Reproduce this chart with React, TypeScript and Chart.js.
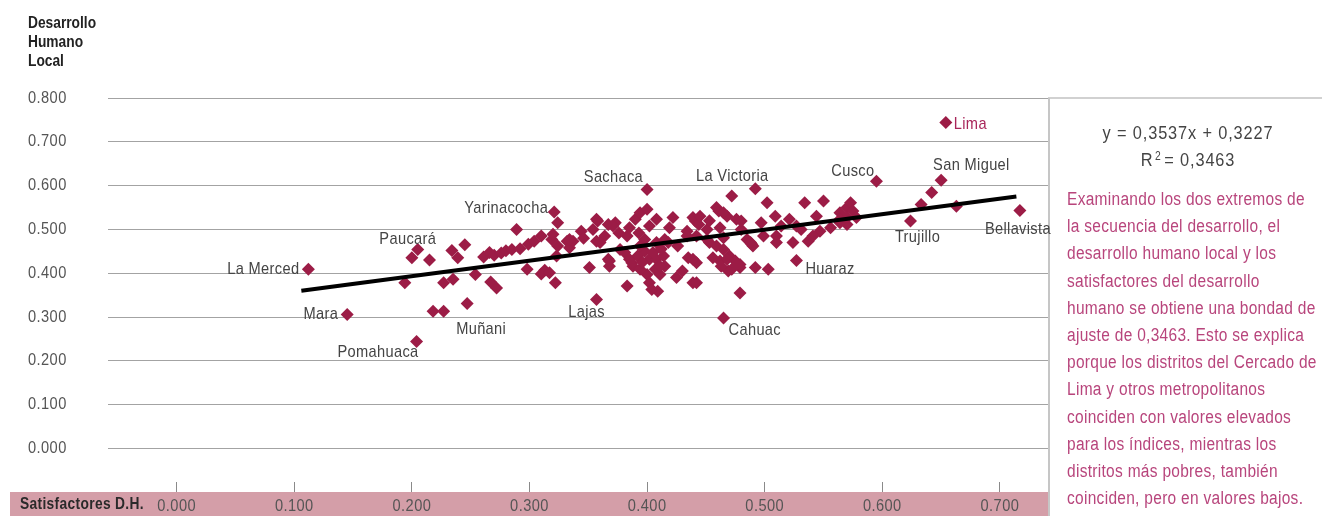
import React, { useEffect, useRef } from 'react';
import { Chart, registerables } from 'chart.js';

Chart.register(...registerables);

const FONT = "'Liberation Sans', Arial, sans-serif";
const SX = 0.86; // horizontal condensing of all text

// ---- data ----
const yTickValues = [0, 0.1, 0.2, 0.3, 0.4, 0.5, 0.6, 0.7, 0.8];
const xTickValues = [0, 0.1, 0.2, 0.3, 0.4, 0.5, 0.6, 0.7];

const satisfactores = [
  0.194, 0.200, 0.215, 0.218, 0.227, 0.227, 0.235, 0.234, 0.239, 0.245,
  0.254, 0.267, 0.272, 0.261, 0.266, 0.270, 0.276, 0.280, 0.285, 0.292,
  0.299, 0.304, 0.310, 0.289, 0.298, 0.310, 0.313, 0.322, 0.324, 0.319,
  0.324, 0.332, 0.320, 0.334, 0.323, 0.317, 0.337, 0.344, 0.351, 0.358,
  0.354, 0.367, 0.373, 0.364, 0.357, 0.383, 0.390, 0.394, 0.400, 0.385,
  0.402, 0.398, 0.408, 0.415, 0.422, 0.419, 0.367, 0.368, 0.381, 0.385,
  0.392, 0.388, 0.398, 0.402, 0.408, 0.414, 0.415, 0.407, 0.411, 0.400,
  0.402, 0.409, 0.383, 0.425, 0.435, 0.439, 0.434, 0.441, 0.404, 0.368,
  0.387, 0.394, 0.411, 0.442, 0.357, 0.371, 0.408, 0.334, 0.360, 0.394,
  0.377, 0.405, 0.418, 0.439, 0.444, 0.451, 0.442, 0.461, 0.472, 0.468,
  0.476, 0.480, 0.502, 0.509, 0.514, 0.521, 0.534, 0.550, 0.544, 0.531,
  0.537, 0.524, 0.510, 0.489, 0.465, 0.453, 0.470, 0.475, 0.462, 0.479,
  0.492, 0.503, 0.469, 0.439, 0.442, 0.479, 0.564, 0.570, 0.556, 0.570,
  0.573, 0.575, 0.570, 0.578, 0.564, 0.547, 0.541, 0.527, 0.459, 0.465,
  0.480, 0.462, 0.445, 0.434, 0.451, 0.465, 0.459, 0.485, 0.490, 0.499,
  0.510, 0.456, 0.468, 0.479, 0.488, 0.463, 0.472, 0.642, 0.633, 0.663,
  0.564, 0.393, 0.396, 0.412, 0.426, 0.430, 0.376, 0.346, 0.453, 0.497,
];

const desarrollo = [
  0.378, 0.435, 0.430, 0.313, 0.313, 0.378, 0.386, 0.452, 0.435, 0.465,
  0.397, 0.380, 0.366, 0.437, 0.447, 0.441, 0.446, 0.451, 0.454, 0.456,
  0.466, 0.473, 0.485, 0.500, 0.409, 0.398, 0.407, 0.378, 0.515, 0.477,
  0.462, 0.473, 0.489, 0.458, 0.439, 0.401, 0.473, 0.496, 0.413, 0.519,
  0.500, 0.511, 0.515, 0.485, 0.473, 0.485, 0.523, 0.538, 0.546, 0.504,
  0.508, 0.477, 0.470, 0.477, 0.527, 0.504, 0.432, 0.416, 0.447, 0.432,
  0.439, 0.416, 0.450, 0.432, 0.432, 0.439, 0.416, 0.409, 0.397, 0.397,
  0.378, 0.359, 0.371, 0.390, 0.435, 0.378, 0.496, 0.519, 0.363, 0.428,
  0.424, 0.409, 0.416, 0.424, 0.523, 0.508, 0.523, 0.477, 0.470, 0.462,
  0.454, 0.447, 0.470, 0.527, 0.511, 0.500, 0.485, 0.542, 0.576, 0.530,
  0.523, 0.500, 0.561, 0.530, 0.508, 0.523, 0.561, 0.565, 0.530, 0.500,
  0.473, 0.470, 0.485, 0.466, 0.454, 0.470, 0.439, 0.428, 0.428, 0.413,
  0.413, 0.409, 0.405, 0.432, 0.378, 0.355, 0.538, 0.550, 0.504, 0.511,
  0.561, 0.542, 0.527, 0.527, 0.515, 0.496, 0.485, 0.508, 0.550, 0.538,
  0.519, 0.504, 0.530, 0.485, 0.477, 0.481, 0.462, 0.477, 0.462, 0.485,
  0.470, 0.435, 0.432, 0.420, 0.470, 0.416, 0.409, 0.584, 0.557, 0.553,
  0.523, 0.492, 0.425, 0.455, 0.462, 0.405, 0.492, 0.480, 0.520, 0.515,
];

const districtNames = [
  'La Merced', 'Mara', 'Pomahuaca', 'Paucará', 'Muñani', 'Yarinacocha', 'Sachaca', 'Lajas',
  'La Victoria', 'Cahuac', 'Huaraz', 'Cusco', 'Lima', 'San Miguel', 'Trujillo', 'Bellavista',
];
const districtX = [0.112, 0.145, 0.204, 0.205, 0.247, 0.321, 0.400, 0.357, 0.492, 0.465, 0.527, 0.595, 0.654, 0.650, 0.624, 0.717];
const districtY = [0.409, 0.306, 0.244, 0.454, 0.331, 0.540, 0.591, 0.340, 0.593, 0.298, 0.429, 0.610, 0.744, 0.612, 0.519, 0.543];

const trendX = [0.106, 0.714];
const trendY = [0.360, 0.575];

const equationLine = 'y = 0,3537x + 0,3227';
const r2Value = '0,3463';
const noteLines = [
  'Examinando los dos extremos de',
  'la secuencia del desarrollo, el',
  'desarrollo humano local y los',
  'satisfactores del desarrollo',
  'humano se obtiene una bondad de',
  'ajuste de 0,3463. Esto se explica',
  'porque los distritos del Cercado de',
  'Lima y otros metropolitanos',
  'coinciden con valores elevados',
  'para los índices, mientras los',
  'distritos más pobres, también',
  'coinciden, pero en valores bajos.',
];
const yTitleLines = ['Desarrollo', 'Humano', 'Local'];
const xTitle = 'Satisfactores D.H.';

// ---- label placement (style) ----
const labelPlacement: Record<string, { align: CanvasTextAlign; dx: number; dy: number }> = {
  'La Merced': { align: 'right', dx: -9, dy: 0 },
  'Mara': { align: 'right', dx: -9, dy: 0 },
  'Pomahuaca': { align: 'right', dx: 2, dy: 11 },
  'Paucará': { align: 'center', dx: -10, dy: -10 },
  'Muñani': { align: 'center', dx: 14, dy: 26 },
  'Yarinacocha': { align: 'right', dx: -6, dy: -4 },
  'Sachaca': { align: 'right', dx: -4, dy: -12 },
  'Lajas': { align: 'center', dx: -10, dy: 13 },
  'La Victoria': { align: 'center', dx: -23, dy: -12 },
  'Cahuac': { align: 'left', dx: 5, dy: 12 },
  'Huaraz': { align: 'left', dx: 9, dy: 9 },
  'Cusco': { align: 'right', dx: -2, dy: -10 },
  'Lima': { align: 'left', dx: 8, dy: 2 },
  'San Miguel': { align: 'left', dx: -8, dy: -15 },
  'Trujillo': { align: 'center', dx: 7, dy: 16 },
  'Bellavista': { align: 'center', dx: -2, dy: 19 },
};

const POINT_COLOR = '#9c1c46';
const BAND_COLOR = '#d49ea8';
const GRID_COLOR = '#a3a3a3';
const TEXT_GREY = '#555';
const NOTE_COLOR = '#b8457c';

function drawText(
  ctx: CanvasRenderingContext2D,
  text: string,
  x: number,
  y: number,
  align: CanvasTextAlign,
  font: string,
  color: string,
  spacing: string,
) {
  ctx.save();
  ctx.translate(x, y);
  ctx.scale(SX, 1);
  ctx.font = font;
  (ctx as any).letterSpacing = spacing;
  ctx.fillStyle = color;
  ctx.textAlign = align;
  ctx.textBaseline = 'middle';
  ctx.fillText(text, 0, 0);
  ctx.restore();
}

const decorPlugin = {
  id: 'decor',
  beforeDraw(chart: any) {
    const { ctx, chartArea, scales } = chart;
    ctx.save();
    ctx.fillStyle = '#fff';
    ctx.fillRect(0, 0, chart.width, chart.height);
    const bandTop = chartArea.bottom + 10;
    ctx.fillStyle = BAND_COLOR;
    ctx.fillRect(10, bandTop, chartArea.right - 10, chart.height - bandTop);
    const yTop = scales.y.getPixelForValue(0.8);
    ctx.strokeStyle = GRID_COLOR;
    ctx.lineWidth = 1;
    ctx.beginPath();
    ctx.moveTo(chartArea.right, yTop);
    ctx.lineTo(chart.width, yTop);
    ctx.stroke();
    ctx.strokeStyle = '#c6c6c6';
    ctx.lineWidth = 2;
    ctx.beginPath();
    ctx.moveTo(chartArea.right + 1, yTop);
    ctx.lineTo(chartArea.right + 1, chart.height);
    ctx.stroke();
    ctx.restore();

    const bold = `bold 16px ${FONT}`;
    yTitleLines.forEach((t, i) => drawText(ctx, t, 28, 24 + i * 19, 'left', bold, '#222', '0px'));
    drawText(ctx, xTitle, 20, bandTop + 13, 'left', bold, '#2a2a2a', '0.4px');

    const tickFont = `17px ${FONT}`;
    yTickValues.forEach((v) => {
      drawText(ctx, v.toFixed(3), 28, scales.y.getPixelForValue(v), 'left', tickFont, TEXT_GREY, '0.5px');
    });
    xTickValues.forEach((v) => {
      drawText(ctx, v.toFixed(3), scales.x.getPixelForValue(v), bandTop + 14, 'center', tickFont, TEXT_GREY, '0.5px');
    });
  },
  afterDatasetsDraw(chart: any) {
    const { ctx, scales } = chart;
    const font = `17px ${FONT}`;
    districtNames.forEach((name, i) => {
      const p = labelPlacement[name];
      const px = scales.x.getPixelForValue(districtX[i]);
      const py = scales.y.getPixelForValue(districtY[i]);
      drawText(ctx, name, px + p.dx, py + p.dy, p.align, font, name === 'Lima' ? '#a8265a' : '#444', '0.4px');
    });
  },
};

export default function App() {
  const ref = useRef<HTMLCanvasElement>(null);

  useEffect(() => {
    document.body.style.margin = '0';
    const canvas = ref.current!;
    const points = satisfactores
      .map((x, i) => ({ x, y: desarrollo[i] }))
      .concat(districtX.map((x, i) => ({ x, y: districtY[i] })));
    const trend = trendX.map((x, i) => ({ x, y: trendY[i] }));

    const chart = new Chart(canvas, {
      type: 'scatter',
      data: {
        datasets: [
          {
            type: 'line',
            data: trend,
            borderColor: '#000',
            borderWidth: 4,
            pointRadius: 0,
            fill: false,
          } as any,
          {
            data: points,
            pointStyle: 'rectRot',
            pointRadius: 6.5,
            pointBorderWidth: 0,
            backgroundColor: POINT_COLOR,
            borderColor: POINT_COLOR,
          },
        ],
      },
      options: {
        responsive: false,
        animation: false,
        events: [],
        layout: { padding: { left: 28, top: 98, right: 274, bottom: 0 } },
        plugins: { legend: { display: false }, tooltip: { enabled: false } },
        scales: {
          x: {
            type: 'linear',
            min: -0.0584,
            max: 0.7409,
            afterBuildTicks: (s: any) => {
              s.ticks = xTickValues.map((v) => ({ value: v }));
            },
            afterFit: (s: any) => {
              s.height = 34;
            },
            grid: { drawOnChartArea: false, drawTicks: true, tickLength: 10, color: '#8a8a8a' },
            border: { display: false },
            ticks: { display: false },
          },
          y: {
            type: 'linear',
            min: -0.0767,
            max: 0.8,
            afterBuildTicks: (s: any) => {
              s.ticks = yTickValues.map((v) => ({ value: v }));
            },
            afterFit: (s: any) => {
              s.width = 80;
            },
            grid: { color: GRID_COLOR, lineWidth: 1, drawTicks: false },
            border: { display: false },
            ticks: { display: false },
          },
        },
      },
      plugins: [decorPlugin],
    });
    return () => chart.destroy();
  }, []);

  const textBase: React.CSSProperties = {
    position: 'absolute',
    fontFamily: FONT,
    whiteSpace: 'nowrap',
  };

  return (
    <div style={{ position: 'fixed', left: 0, top: 0, width: 1322, height: 516, overflow: 'hidden', background: '#fff' }}>
      <canvas ref={ref} width={1322} height={516} style={{ display: 'block', width: 1322, height: 516 }} />
      <div
        style={{
          ...textBase,
          left: 1050,
          width: 276,
          top: 119,
          textAlign: 'center',
          color: '#444',
          fontSize: 19,
          lineHeight: '27px',
          letterSpacing: '1px',
          transform: `scaleX(${SX})`,
          transformOrigin: 'center top',
        }}
      >
        <div>{equationLine}</div>
        <div>
          R<sup style={{ fontSize: 12, verticalAlign: 'top', lineHeight: '20px', margin: '0 3px 0 2px' }}>2</sup>= {r2Value}
        </div>
      </div>
      <div
        style={{
          ...textBase,
          left: 1067,
          top: 186,
          fontSize: 18,
          lineHeight: '27.2px',
          letterSpacing: '0.35px',
          color: NOTE_COLOR,
          transform: `scaleX(${SX})`,
          transformOrigin: 'left top',
        }}
      >
        {noteLines.map((t) => (
          <div key={t}>{t}</div>
        ))}
      </div>
    </div>
  );
}
